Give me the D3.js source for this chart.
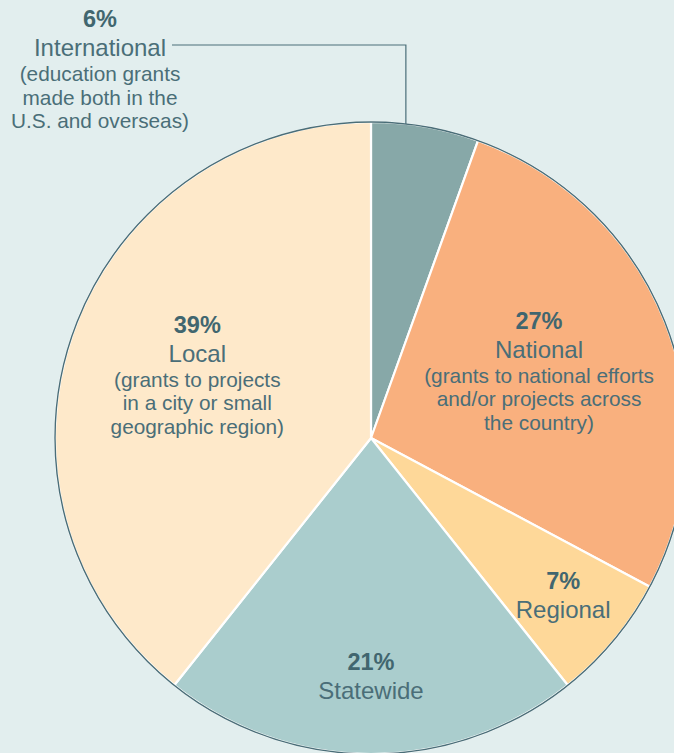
<!DOCTYPE html>
<html>
<head>
<meta charset="utf-8">
<script src="https://cdn.jsdelivr.net/npm/d3@7"></script>
<style>
  html, body { margin: 0; padding: 0; background: #e2eeee; overflow: hidden; }
  text { font-family: "Liberation Sans", Arial, sans-serif; fill: #4a6e78; }
</style>
</head>
<body>
<div id="pie_chart"></div>
<script>
// slices, clockwise from 12 o'clock
var categories = ["International", "National", "Regional", "Statewide", "Local"];
var shares = [5.5, 27.3, 6.5, 21.4, 39.3];
var pctLabels = ["6%", "27%", "7%", "21%", "39%"];
var notes = [
  ["(education grants", "made both in the", "U.S. and overseas)"],
  ["(grants to national efforts", "and/or projects across", "the country)"],
  [],
  [],
  ["(grants to projects", "in a city or small", "geographic region)"]
];
var colors = ["#87a8a8", "#f9b07e", "#fed899", "#aacdcd", "#fee9ca"];

var data = categories.map(function (c, i) {
  return { name: c, value: shares[i], pct: pctLabels[i], notes: notes[i] };
});

// set the dimensions of the graph
var width = 674, height = 753;
var cx = 371, cy = 438, radius = 316;

// where each label sits, as a radius along the slice middle
var labelRadius = { National: 180, Regional: 250, Statewide: 240, Local: 184 };

var svg = d3.select("#pie_chart")
  .append("svg")
  .attr("width", width)
  .attr("height", height);

var color = d3.scaleOrdinal().domain(categories).range(colors);

var pie = d3.pie()
  .value(function (d) { return d.value; })
  .sort(null);

var arcs = pie(data);

var arc = d3.arc()
  .innerRadius(0)
  .outerRadius(radius);

var g = svg.append("g")
  .attr("transform", "translate(" + cx + "," + cy + ")");

// slices with white separators
g.selectAll("path.slice")
  .data(arcs)
  .enter()
  .append("path")
  .attr("class", "slice")
  .attr("d", arc)
  .style("fill", function (d) { return color(d.data.name); })
  .style("stroke", "#ffffff")
  .style("stroke-width", 2.2)
  .style("stroke-linejoin", "round");

// dark outline around the pie
g.append("circle")
  .attr("r", radius)
  .style("fill", "none")
  .style("stroke", "#4a6e78")
  .style("stroke-width", 1.4);

// text blocks: bold percent, name, then small notes
function drawBlock(parent, x, y, d) {
  var t = parent.append("text")
    .attr("text-anchor", "middle")
    .attr("transform", "translate(" + x + "," + y + ")");
  t.append("tspan")
    .attr("x", 0).attr("y", 0)
    .style("font-weight", "bold")
    .style("font-size", "23.5px")
    .style("fill", "#41666f")
    .text(d.pct);
  t.append("tspan")
    .attr("x", 0).attr("y", 29)
    .style("font-size", "24px")
    .text(d.name);
  d.notes.forEach(function (line, i) {
    t.append("tspan")
      .attr("x", 0).attr("y", 54 + i * 23.5)
      .style("font-size", "20.8px")
      .text(line);
  });
  return t;
}

arcs.forEach(function (a) {
  if (a.data.name === "International") return;
  var r = labelRadius[a.data.name];
  var mid = (a.startAngle + a.endAngle) / 2;
  var x = r * Math.sin(mid);
  var y = -r * Math.cos(mid);
  var h = 29 + (a.data.notes.length ? 25 + (a.data.notes.length - 1) * 23.5 : 0);
  drawBlock(g, x, y - h / 2 + 6, a.data);
});

// International sits outside with a leader line
var intl = arcs[0];
var leadAngle = intl.startAngle + (intl.endAngle - intl.startAngle) * 0.32;
var lx = radius * Math.sin(leadAngle);
var ly = -radius * Math.cos(leadAngle);
var labelX = 100 - cx, labelY = 27 - cy;

g.append("polyline")
  .attr("points", [
    [labelX + 72, labelY + 18],
    [lx, labelY + 18],
    [lx, ly]
  ].map(function (p) { return p.join(","); }).join(" "))
  .style("fill", "none")
  .style("stroke", "#4a6e78")
  .style("stroke-width", 1.2);

drawBlock(g, labelX, labelY, intl.data);
</script>
</body>
</html>
